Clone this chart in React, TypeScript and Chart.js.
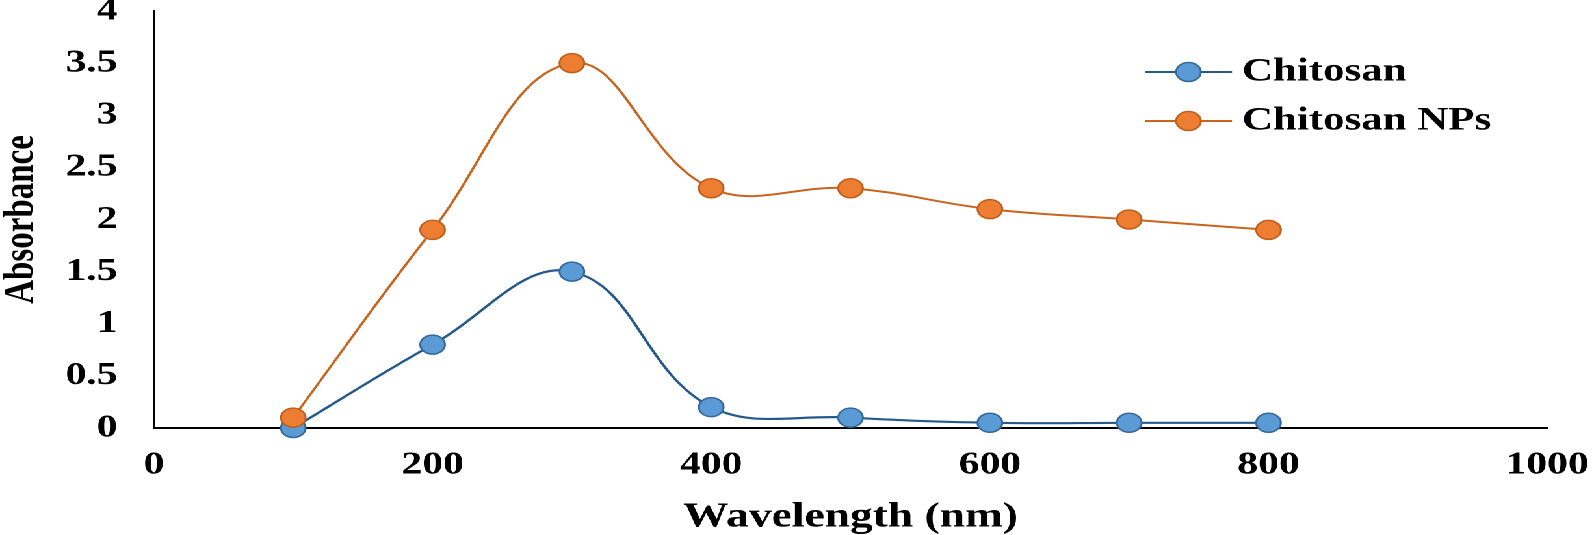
import React, { useEffect, useRef } from "react";
import { Chart, registerables } from "chart.js";

Chart.register(...registerables);

// ---- data ----
const wavelengths = [100, 200, 300, 400, 500, 600, 700, 800];
const chitosan = [0, 0.8, 1.5, 0.2, 0.1, 0.05, 0.05, 0.05];
const chitosanNPs = [0.1, 1.9, 3.5, 2.3, 2.3, 2.1, 2.0, 1.9];
const seriesNames = ["Chitosan", "Chitosan NPs"];
const xTitle = "Wavelength (nm)";
const yTitle = "Absorbance";
const xRange = [0, 1000];
const xStep = 200;
const yRange = [0, 4];
const yStep = 0.5;

// ---- layout (the reference is horizontally stretched) ----
const FULL_W = 1594;
const H = 535;
const W = 1226;
const STRETCH = FULL_W / W;
const FONT = '"Liberation Serif", "Times New Roman", serif';

const legendPlugin = {
  id: "customLegend",
  afterDraw(chart: any) {
    const opts = chart.options.plugins.customLegend;
    const ctx = chart.ctx;
    chart.data.datasets.forEach((ds: any, i: number) => {
      const y = opts.y + i * opts.rowGap;
      ctx.save();
      ctx.strokeStyle = ds.borderColor;
      ctx.lineWidth = 2;
      ctx.beginPath();
      ctx.moveTo(opts.x, y);
      ctx.lineTo(opts.x + opts.lineLen, y);
      ctx.stroke();
      ctx.beginPath();
      ctx.arc(opts.x + opts.lineLen / 2, y, ds.pointRadius, 0, Math.PI * 2);
      ctx.fillStyle = ds.pointBackgroundColor;
      ctx.fill();
      ctx.lineWidth = ds.pointBorderWidth;
      ctx.strokeStyle = ds.pointBorderColor;
      ctx.stroke();
      ctx.font = `bold 33px ${FONT}`;
      ctx.fillStyle = "#000";
      ctx.textBaseline = "middle";
      ctx.textAlign = "left";
      ctx.fillText(ds.label, opts.x + opts.lineLen + opts.textGap, y);
      ctx.restore();
    });
  },
};

export default function App() {
  const canvasRef = useRef<HTMLCanvasElement | null>(null);

  useEffect(() => {
    if (!canvasRef.current) return;
    const chart = new Chart(canvasRef.current, {
      type: "line",
      data: {
        datasets: [
          {
            label: seriesNames[0],
            data: wavelengths.map((x, i) => ({ x, y: chitosan[i] })),
            borderColor: "#24598C",
            borderWidth: 2.2,
            pointBackgroundColor: "#5B9BD5",
            pointBorderColor: "#35689C",
            pointBorderWidth: 1.5,
            pointRadius: 9.5,
            tension: 0.4,
            clip: false,
            order: 1,
          },
          {
            label: seriesNames[1],
            data: wavelengths.map((x, i) => ({ x, y: chitosanNPs[i] })),
            borderColor: "#C9641F",
            borderWidth: 2,
            pointBackgroundColor: "#ED7D31",
            pointBorderColor: "#C25E1C",
            pointBorderWidth: 1.5,
            pointRadius: 9.5,
            tension: 0.4,
            clip: false,
            order: 0,
          },
        ] as any,
      },
      options: {
        animation: false,
        responsive: false,
        devicePixelRatio: 2,
        layout: { padding: { top: 11, right: 36, left: 0, bottom: 0 } },
        plugins: {
          legend: { display: false },
          tooltip: { enabled: false },
          customLegend: { x: 880.6, y: 72, rowGap: 49, lineLen: 67, textGap: 7.7 },
        } as any,
        scales: {
          x: {
            type: "linear",
            min: xRange[0],
            max: xRange[1],
            grid: { display: false, drawTicks: false },
            border: { display: true, color: "#000", width: 2 },
            ticks: {
              stepSize: xStep,
              autoSkip: false,
              maxRotation: 0,
              padding: 18,
              color: "#000",
              font: { family: FONT, size: 32, weight: "bold" },
              callback: (v: any) => String(v),
            },
            title: {
              display: true,
              text: xTitle,
              color: "#000",
              font: { family: FONT, size: 35, weight: "bold", lineHeight: 1.0 },
              padding: { top: 0, bottom: 0 },
            },
            afterFit(scale: any) {
              scale.height = 107;
              scale.paddingLeft = 0;
              scale.paddingRight = 0;
            },
          },
          y: {
            min: yRange[0],
            max: yRange[1],
            grid: { display: false, drawTicks: false },
            border: { display: true, color: "#000", width: 2 },
            ticks: {
              stepSize: yStep,
              padding: 28,
              color: "#000",
              font: { family: FONT, size: 32, weight: "bold" },
              callback: (v: any) => String(v),
            },
            title: {
              display: true,
              text: yTitle,
              color: "#000",
              font: { family: FONT, size: 33, weight: "bold", lineHeight: 1.0 },
              padding: { top: 0, bottom: 0 },
            },
            afterFit(scale: any) {
              scale.width = 118.4;
              scale.paddingTop = 0;
              scale.paddingBottom = 0;
            },
          },
        } as any,
      },
      plugins: [legendPlugin],
    });
    return () => chart.destroy();
  }, []);

  return (
    <div
      style={{
        position: "absolute",
        left: 0,
        top: 0,
        width: W,
        height: H,
        transform: `scaleX(${STRETCH})`,
        transformOrigin: "0 0",
        background: "#fff",
      }}
    >
      <canvas ref={canvasRef} width={W} height={H} />
    </div>
  );
}
